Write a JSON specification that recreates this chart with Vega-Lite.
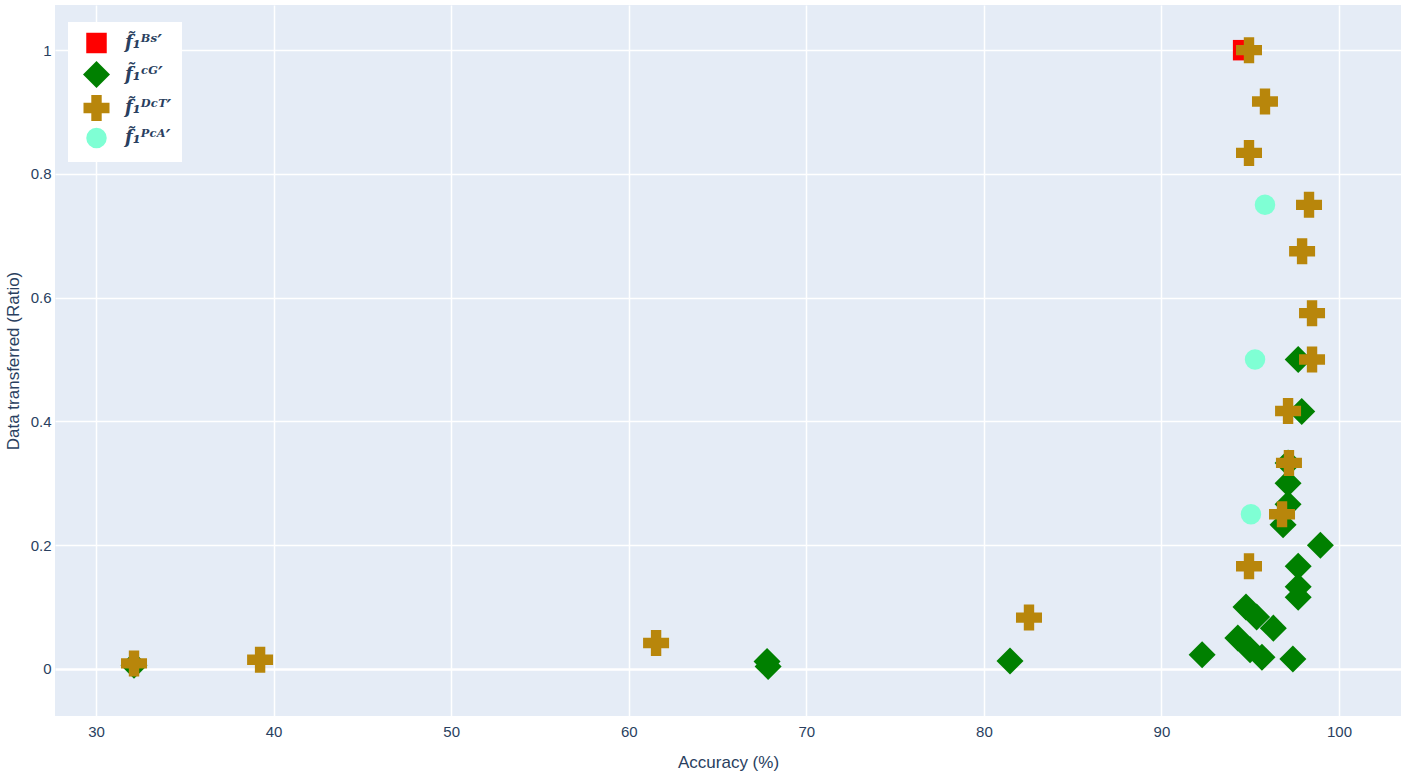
{
  "$schema": "https://vega.github.io/schema/vega-lite/v6.json",
  "width": 1346,
  "height": 711,
  "autosize": {"type": "none"},
  "padding": {"left": 55, "top": 5, "right": 1, "bottom": 59},
  "background": "white",
  "config": {
    "view": {"fill": "#e5ecf6", "stroke": null},
    "font": "Liberation Sans"
  },
  "data": {
    "values": [
      {"series": "BS", "acc": 94.6, "ratio": 1.0},
      {"series": "CG", "acc": 32.14, "ratio": 0.006},
      {"series": "CG", "acc": 67.79, "ratio": 0.012},
      {"series": "CG", "acc": 67.85, "ratio": 0.004},
      {"series": "CG", "acc": 81.47, "ratio": 0.013},
      {"series": "CG", "acc": 92.29, "ratio": 0.023},
      {"series": "CG", "acc": 94.76, "ratio": 0.1},
      {"series": "CG", "acc": 95.36, "ratio": 0.084},
      {"series": "CG", "acc": 96.3, "ratio": 0.066},
      {"series": "CG", "acc": 94.3, "ratio": 0.05},
      {"series": "CG", "acc": 94.99, "ratio": 0.031},
      {"series": "CG", "acc": 95.66, "ratio": 0.019},
      {"series": "CG", "acc": 97.4, "ratio": 0.016},
      {"series": "CG", "acc": 97.7, "ratio": 0.166},
      {"series": "CG", "acc": 97.7, "ratio": 0.133},
      {"series": "CG", "acc": 97.7, "ratio": 0.116},
      {"series": "CG", "acc": 98.95, "ratio": 0.2},
      {"series": "CG", "acc": 96.85, "ratio": 0.233},
      {"series": "CG", "acc": 97.13, "ratio": 0.266},
      {"series": "CG", "acc": 97.13, "ratio": 0.3},
      {"series": "CG", "acc": 97.13, "ratio": 0.333},
      {"series": "CG", "acc": 97.9, "ratio": 0.416},
      {"series": "CG", "acc": 97.7, "ratio": 0.5},
      {"series": "DCT", "acc": 32.14, "ratio": 0.009},
      {"series": "DCT", "acc": 39.24, "ratio": 0.015},
      {"series": "DCT", "acc": 61.54, "ratio": 0.042},
      {"series": "DCT", "acc": 82.54, "ratio": 0.083},
      {"series": "DCT", "acc": 94.93, "ratio": 0.166},
      {"series": "DCT", "acc": 96.79, "ratio": 0.25},
      {"series": "DCT", "acc": 97.18, "ratio": 0.333},
      {"series": "DCT", "acc": 97.13, "ratio": 0.417},
      {"series": "DCT", "acc": 98.48, "ratio": 0.5},
      {"series": "DCT", "acc": 98.48, "ratio": 0.575},
      {"series": "DCT", "acc": 97.92, "ratio": 0.675},
      {"series": "DCT", "acc": 98.31, "ratio": 0.75},
      {"series": "DCT", "acc": 94.93, "ratio": 0.834},
      {"series": "DCT", "acc": 95.83, "ratio": 0.917},
      {"series": "DCT", "acc": 94.93, "ratio": 1.0},
      {"series": "PCA", "acc": 95.83, "ratio": 0.75},
      {"series": "PCA", "acc": 95.27, "ratio": 0.5},
      {"series": "PCA", "acc": 95.04, "ratio": 0.25}
    ]
  },
  "mark": {"type": "point", "filled": true, "opacity": 1},
  "encoding": {
    "x": {
      "field": "acc",
      "type": "quantitative",
      "scale": {"domain": [27.69, 103.49], "nice": false, "zero": false},
      "axis": {
        "title": "Accuracy (%)",
        "values": [30, 40, 50, 60, 70, 80, 90, 100],
        "domain": false,
        "ticks": false,
        "grid": true,
        "gridColor": "white",
        "gridWidth": 1.5,
        "labelFontSize": 15,
        "labelColor": "#2a3f5f",
        "labelPadding": 8,
        "titleFontSize": 17,
        "titleFontWeight": "normal",
        "titleColor": "#2a3f5f",
        "titlePadding": 15
      }
    },
    "y": {
      "field": "ratio",
      "type": "quantitative",
      "scale": {"domain": [-0.076, 1.073], "nice": false, "zero": false},
      "axis": {
        "title": "Data transferred (Ratio)",
        "values": [0, 0.2, 0.4, 0.6, 0.8, 1],
        "format": "~g",
        "domain": false,
        "ticks": false,
        "grid": true,
        "gridColor": "white",
        "gridWidth": {"condition": {"test": "datum.value === 0", "value": 2.5}, "value": 1.5},
        "labelFontSize": 15,
        "labelColor": "#2a3f5f",
        "labelPadding": 4,
        "titleFontSize": 17,
        "titleFontWeight": "normal",
        "titleColor": "#2a3f5f",
        "titlePadding": 8
      }
    },
    "color": {
      "field": "series",
      "type": "nominal",
      "scale": {"domain": ["BS", "CG", "DCT", "PCA"], "range": ["#ff0000", "#008000", "#b8860b", "#7fffd4"]},
      "legend": {
        "title": null,
        "orient": "none",
        "legendX": 13,
        "legendY": 17,
        "fillColor": "white",
        "padding": 10,
        "rowPadding": 0,
        "labelFont": "DejaVu Serif",
        "labelFontStyle": "italic",
        "labelFontWeight": "bold",
        "labelFontSize": 18,
        "labelColor": "#2a3f5f",
        "labelOffset": 14,
        "symbolOffset": 4,
        "symbolOpacity": 1,
        "labelExpr": "datum.value === 'BS' ? 'f̃₁ᴮˢ′' : datum.value === 'CG' ? 'f̃₁ᶜᴳ′' : datum.value === 'DCT' ? 'f̃₁ᴰᶜᵀ′' : 'f̃₁ᴾᶜᴬ′'"
      }
    },
    "shape": {
      "field": "series",
      "type": "nominal",
      "scale": {"domain": ["BS", "CG", "DCT", "PCA"], "range": ["square", "diamond", "cross", "circle"]}
    },
    "size": {
      "field": "series",
      "type": "nominal",
      "scale": {"type": "ordinal", "domain": ["BS", "CG", "DCT", "PCA"], "range": [420, 730, 676, 420]}
    }
  }
}
